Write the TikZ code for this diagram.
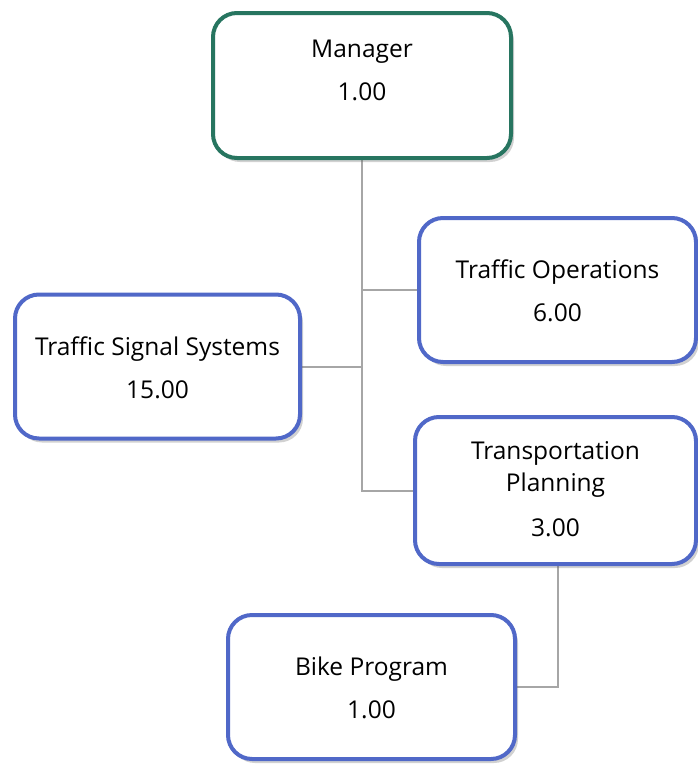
\documentclass[tikz,border=0pt]{standalone}
\usepackage{fontspec}
\setmainfont{Open Sans}
\usetikzlibrary{shadows,backgrounds}
\definecolor{mgrgreen}{HTML}{277560}
\definecolor{boxblue}{HTML}{5068C8}
\definecolor{linegray}{HTML}{A6A6A6}
\tikzset{
  orgbox/.style={draw=boxblue, line width=4pt, rounded corners=24pt, fill=white,
    drop shadow={opacity=0.3, shadow xshift=3pt, shadow yshift=-4pt, fill=black!60},
    inner sep=0pt},
  mgrbox/.style={orgbox, draw=mgrgreen},
  lbl/.style={font=\fontsize{24.5}{43}\selectfont, align=center, inner sep=0pt, text=black},
  conn/.style={draw=linegray, line width=2pt}
}
\begin{document}
\begin{tikzpicture}[x=1pt, y=-1pt]
\useasboundingbox (0,0) rectangle (698,766);
% boxes
\node[mgrbox, minimum width=298pt, minimum height=145pt] (mgr) at (362,85.5) {};
\node[orgbox, minimum width=277pt, minimum height=144pt] (ops) at (557.5,290) {};
\node[orgbox, minimum width=285pt, minimum height=144pt] (tss) at (157.5,366.5) {};
\node[orgbox, minimum width=281pt, minimum height=147pt] (tp) at (555.5,490.5) {};
\node[orgbox, minimum width=287pt, minimum height=144pt] (bike) at (371.5,687) {};
\coordinate (j1) at (ops.west -| mgr.south);
\coordinate (j2) at (tss.east -| mgr.south);
\coordinate (j3) at (tp.west -| mgr.south);
\coordinate (j4) at (bike.east -| 558,0);
% connectors
\begin{scope}[on background layer]
\draw[conn] (mgr.south) -- (j3) -- (tp.west);
\draw[conn] (j1) -- (ops.west);
\draw[conn] (tss.east) -- (j2);
\draw[conn] (tp.south -| j4) -- (j4) -- (bike.east);
\end{scope}
% labels
\node[lbl] (mgrT) at (362,70.5) {Manager\\1.00};
\node[lbl] (opsT) at (557.5,290.5) {Traffic Operations\\6.00};
\node[lbl] (tssT) at (157.5,367.5) {Traffic Signal Systems\\15.00};
\node[lbl, font=\fontsize{24.5}{32}\selectfont] (tpT) at (555.5,469) {Transportation\\Planning};
\node[lbl] (tpN) at (555.5,528) {3.00};
\node[lbl] (bikeT) at (371.5,687.5) {Bike Program\\1.00};
\end{tikzpicture}
\end{document}
